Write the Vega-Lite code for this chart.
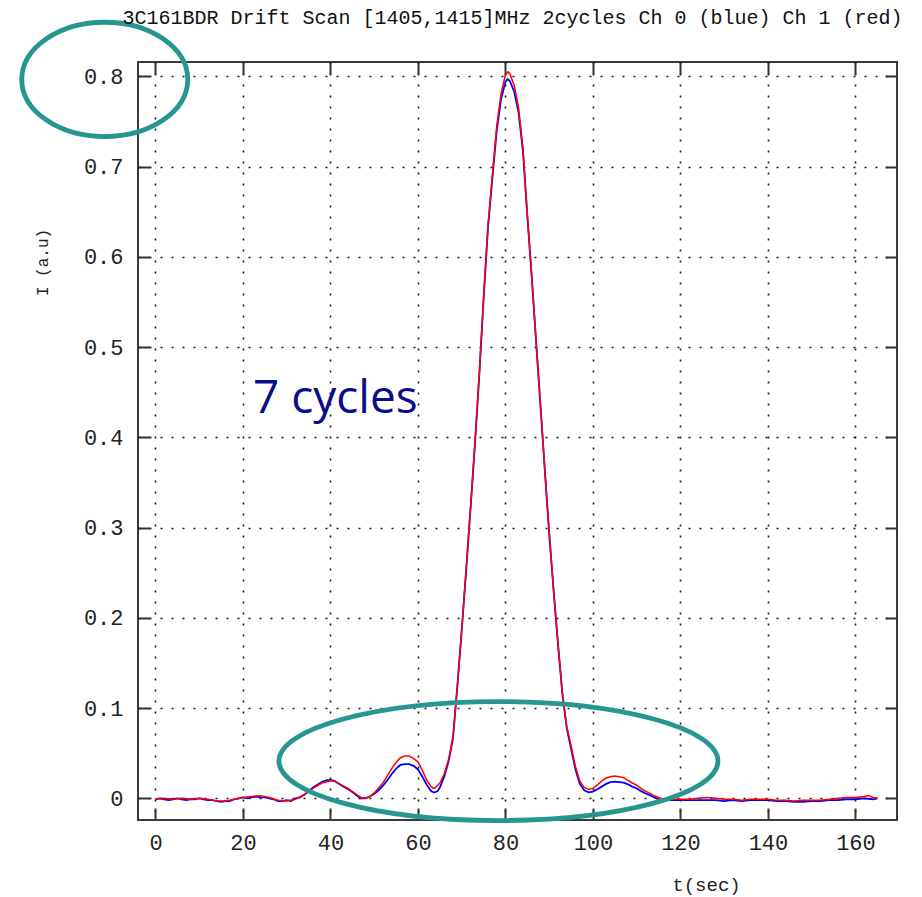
{
  "$schema": "https://vega.github.io/schema/vega-lite/v6.json",
  "autosize": {"type": "none"},
  "padding": {"left": 138, "top": 62, "right": 25, "bottom": 77},
  "width": 759,
  "height": 758,
  "background": "white",
  "title": {
    "text": "3C161BDR Drift Scan [1405,1415]MHz 2cycles Ch 0 (blue) Ch 1 (red)",
    "font": "Liberation Mono",
    "fontSize": 20,
    "fontWeight": "normal",
    "color": "#111111",
    "anchor": "middle",
    "dx": -5,
    "dy": 15,
    "offset": 0
  },
  "datasets": {
    "ch0": [
      {"t": 0, "I": -0.001}, {"t": 1, "I": 0.0}, {"t": 2, "I": -0.001}, {"t": 3, "I": -0.002},
      {"t": 4, "I": -0.001}, {"t": 5, "I": 0.0}, {"t": 6, "I": -0.001}, {"t": 7, "I": -0.002},
      {"t": 8, "I": -0.001}, {"t": 9, "I": -0.001}, {"t": 10, "I": 0.0}, {"t": 11, "I": -0.001},
      {"t": 12, "I": -0.002}, {"t": 13, "I": -0.002}, {"t": 14, "I": -0.003}, {"t": 15, "I": -0.004},
      {"t": 16, "I": -0.003}, {"t": 17, "I": -0.003}, {"t": 18, "I": -0.001}, {"t": 19, "I": 0.0},
      {"t": 20, "I": 0.001}, {"t": 21, "I": 0.0}, {"t": 22, "I": 0.001}, {"t": 23, "I": 0.002},
      {"t": 24, "I": 0.001}, {"t": 25, "I": 0.001}, {"t": 26, "I": 0.0}, {"t": 27, "I": -0.001},
      {"t": 28, "I": -0.003}, {"t": 29, "I": -0.003}, {"t": 30, "I": -0.002}, {"t": 31, "I": -0.003},
      {"t": 32, "I": 0.0}, {"t": 33, "I": 0.001}, {"t": 34, "I": 0.004}, {"t": 35, "I": 0.008},
      {"t": 36, "I": 0.012}, {"t": 37, "I": 0.015}, {"t": 38, "I": 0.018}, {"t": 39, "I": 0.02},
      {"t": 40, "I": 0.0205}, {"t": 41, "I": 0.019}, {"t": 42, "I": 0.016}, {"t": 43, "I": 0.013},
      {"t": 44, "I": 0.01}, {"t": 45, "I": 0.007}, {"t": 46, "I": 0.003}, {"t": 47, "I": 0.0},
      {"t": 48, "I": 0.0}, {"t": 49, "I": 0.002}, {"t": 50, "I": 0.005}, {"t": 51, "I": 0.009},
      {"t": 52, "I": 0.014}, {"t": 53, "I": 0.02}, {"t": 54, "I": 0.027}, {"t": 55, "I": 0.033},
      {"t": 56, "I": 0.037}, {"t": 57, "I": 0.038}, {"t": 58, "I": 0.038}, {"t": 59, "I": 0.036},
      {"t": 60, "I": 0.032}, {"t": 61, "I": 0.024}, {"t": 62, "I": 0.015}, {"t": 63, "I": 0.008},
      {"t": 63.7, "I": 0.0065}, {"t": 64.5, "I": 0.008}, {"t": 65, "I": 0.012}, {"t": 66, "I": 0.024},
      {"t": 67, "I": 0.041}, {"t": 68, "I": 0.066}, {"t": 69, "I": 0.124}, {"t": 70, "I": 0.186},
      {"t": 71, "I": 0.252}, {"t": 72, "I": 0.32}, {"t": 73, "I": 0.391}, {"t": 74, "I": 0.468},
      {"t": 75, "I": 0.553}, {"t": 76, "I": 0.632}, {"t": 77, "I": 0.687}, {"t": 78, "I": 0.74},
      {"t": 79, "I": 0.775}, {"t": 80, "I": 0.794}, {"t": 80.5, "I": 0.797}, {"t": 81, "I": 0.795},
      {"t": 82, "I": 0.783}, {"t": 83, "I": 0.76}, {"t": 84, "I": 0.717}, {"t": 85, "I": 0.645},
      {"t": 86, "I": 0.578}, {"t": 87, "I": 0.506}, {"t": 88, "I": 0.435}, {"t": 89, "I": 0.363},
      {"t": 90, "I": 0.293}, {"t": 91, "I": 0.23}, {"t": 92, "I": 0.171}, {"t": 93, "I": 0.116},
      {"t": 94, "I": 0.078}, {"t": 95, "I": 0.055}, {"t": 96, "I": 0.032}, {"t": 97, "I": 0.016},
      {"t": 98, "I": 0.009}, {"t": 99, "I": 0.0067}, {"t": 100, "I": 0.0075}, {"t": 101, "I": 0.01},
      {"t": 102, "I": 0.013}, {"t": 103, "I": 0.016}, {"t": 104, "I": 0.018}, {"t": 105, "I": 0.0185},
      {"t": 106, "I": 0.018}, {"t": 107, "I": 0.0173}, {"t": 108, "I": 0.0155}, {"t": 109, "I": 0.013},
      {"t": 110, "I": 0.011}, {"t": 111, "I": 0.008}, {"t": 112, "I": 0.0055}, {"t": 113, "I": 0.0035},
      {"t": 114, "I": 0.001}, {"t": 115, "I": -0.001}, {"t": 116, "I": -0.002}, {"t": 118, "I": -0.002},
      {"t": 120, "I": -0.002}, {"t": 122, "I": -0.002}, {"t": 124, "I": -0.002}, {"t": 126, "I": -0.002},
      {"t": 128, "I": -0.002}, {"t": 130, "I": -0.003}, {"t": 132, "I": -0.002}, {"t": 134, "I": -0.003},
      {"t": 136, "I": -0.002}, {"t": 138, "I": -0.002}, {"t": 140, "I": -0.002}, {"t": 142, "I": -0.003},
      {"t": 144, "I": -0.003}, {"t": 146, "I": -0.004}, {"t": 148, "I": -0.004}, {"t": 150, "I": -0.003},
      {"t": 152, "I": -0.003}, {"t": 154, "I": -0.002}, {"t": 156, "I": -0.002}, {"t": 158, "I": -0.001},
      {"t": 160, "I": -0.001}, {"t": 162, "I": 0.0}, {"t": 164, "I": -0.001}, {"t": 165, "I": 0.0}
    ],
    "ch1": [
      {"t": 0, "I": -0.001}, {"t": 2, "I": 0.0}, {"t": 4, "I": -0.001}, {"t": 6, "I": 0.0},
      {"t": 8, "I": -0.001}, {"t": 10, "I": 0.0}, {"t": 12, "I": -0.001}, {"t": 14, "I": -0.003},
      {"t": 16, "I": -0.003}, {"t": 18, "I": -0.001}, {"t": 20, "I": 0.001}, {"t": 22, "I": 0.002},
      {"t": 24, "I": 0.003}, {"t": 26, "I": 0.001}, {"t": 28, "I": -0.002}, {"t": 30, "I": -0.003},
      {"t": 32, "I": -0.001}, {"t": 34, "I": 0.004}, {"t": 36, "I": 0.011}, {"t": 38, "I": 0.017},
      {"t": 40, "I": 0.0195}, {"t": 41, "I": 0.019}, {"t": 42, "I": 0.016}, {"t": 44, "I": 0.011},
      {"t": 46, "I": 0.004}, {"t": 47, "I": 0.001}, {"t": 48, "I": 0.0005}, {"t": 49, "I": 0.002},
      {"t": 50, "I": 0.006}, {"t": 52, "I": 0.017}, {"t": 53, "I": 0.025}, {"t": 54, "I": 0.033},
      {"t": 55, "I": 0.04}, {"t": 56, "I": 0.045}, {"t": 57, "I": 0.047}, {"t": 58, "I": 0.047},
      {"t": 59, "I": 0.044}, {"t": 60, "I": 0.0405}, {"t": 61, "I": 0.031}, {"t": 62, "I": 0.02},
      {"t": 63, "I": 0.013}, {"t": 63.5, "I": 0.011}, {"t": 64, "I": 0.012}, {"t": 65, "I": 0.017},
      {"t": 66, "I": 0.027}, {"t": 67, "I": 0.043}, {"t": 68, "I": 0.068}, {"t": 69, "I": 0.125},
      {"t": 70, "I": 0.187}, {"t": 71, "I": 0.253}, {"t": 72, "I": 0.321}, {"t": 73, "I": 0.392},
      {"t": 74, "I": 0.469}, {"t": 75, "I": 0.555}, {"t": 76, "I": 0.635}, {"t": 77, "I": 0.69},
      {"t": 78, "I": 0.745}, {"t": 79, "I": 0.781}, {"t": 80, "I": 0.802}, {"t": 80.6, "I": 0.805},
      {"t": 81, "I": 0.803}, {"t": 82, "I": 0.79}, {"t": 83, "I": 0.765}, {"t": 84, "I": 0.72},
      {"t": 85, "I": 0.646}, {"t": 86, "I": 0.579}, {"t": 87, "I": 0.507}, {"t": 88, "I": 0.436},
      {"t": 89, "I": 0.364}, {"t": 90, "I": 0.294}, {"t": 91, "I": 0.231}, {"t": 92, "I": 0.172},
      {"t": 93, "I": 0.117}, {"t": 94, "I": 0.08}, {"t": 95, "I": 0.058}, {"t": 96, "I": 0.035},
      {"t": 97, "I": 0.019}, {"t": 98, "I": 0.012}, {"t": 99, "I": 0.01}, {"t": 100, "I": 0.011},
      {"t": 101, "I": 0.015}, {"t": 102, "I": 0.019}, {"t": 103, "I": 0.0225}, {"t": 104, "I": 0.024},
      {"t": 105, "I": 0.0247}, {"t": 106, "I": 0.024}, {"t": 107, "I": 0.023}, {"t": 108, "I": 0.02},
      {"t": 109, "I": 0.017}, {"t": 110, "I": 0.0147}, {"t": 111, "I": 0.011}, {"t": 112, "I": 0.008},
      {"t": 113, "I": 0.0055}, {"t": 114, "I": 0.003}, {"t": 115, "I": 0.001}, {"t": 116, "I": -0.001},
      {"t": 118, "I": -0.001}, {"t": 120, "I": -0.001}, {"t": 122, "I": -0.001}, {"t": 124, "I": 0.0},
      {"t": 126, "I": 0.001}, {"t": 128, "I": 0.0}, {"t": 130, "I": -0.001}, {"t": 132, "I": -0.001},
      {"t": 134, "I": -0.002}, {"t": 136, "I": -0.001}, {"t": 138, "I": -0.001}, {"t": 140, "I": -0.001},
      {"t": 142, "I": -0.002}, {"t": 144, "I": -0.002}, {"t": 146, "I": -0.003}, {"t": 148, "I": -0.002},
      {"t": 150, "I": -0.002}, {"t": 152, "I": -0.002}, {"t": 154, "I": -0.001}, {"t": 156, "I": 0.0},
      {"t": 158, "I": 0.001}, {"t": 160, "I": 0.001}, {"t": 162, "I": 0.002}, {"t": 163, "I": 0.003},
      {"t": 164, "I": 0.001}, {"t": 165, "I": 0.0}
    ]
  },
  "resolve": {"axis": {"x": "independent", "y": "independent"}},
  "layer": [
    {
      "data": {"name": "ch0"},
      "mark": {"type": "line", "color": "#0000ff", "strokeWidth": 1.8},
      "encoding": {
        "x": {
          "field": "t", "type": "quantitative",
          "scale": {"domain": [-4, 169.5], "nice": false, "zero": false},
          "axis": {
            "orient": "bottom",
            "values": [0, 20, 40, 60, 80, 100, 120, 140, 160],
            "format": "d",
            "domain": false,
            "grid": true,
            "gridColor": "#000000",
            "gridDash": [2, 9],
            "gridWidth": 1.6,
            "gridOpacity": 0.9,
            "ticks": true,
            "tickSize": -12,
            "tickWidth": 2,
            "tickColor": "#333333",
            "labelFont": "Liberation Mono",
            "labelFontSize": 22,
            "labelColor": "#222222",
            "labelPadding": 24,
            "labelFlush": false,
            "title": "t(sec)",
            "titleFont": "Liberation Mono",
            "titleFontSize": 19,
            "titleFontWeight": "normal",
            "titleColor": "#222222",
            "titleX": 568,
            "titleY": 70,
            "titleAlign": "center",
            "titleBaseline": "alphabetic"
          }
        },
        "y": {
          "field": "I", "type": "quantitative",
          "scale": {"domain": [-0.024, 0.816], "nice": false, "zero": false},
          "axis": {
            "orient": "left",
            "values": [0, 0.1, 0.2, 0.3, 0.4, 0.5, 0.6, 0.7, 0.8],
            "format": ".1~f",
            "domain": false,
            "grid": true,
            "gridColor": "#000000",
            "gridDash": [2, 9],
            "gridWidth": 1.6,
            "gridOpacity": 0.9,
            "ticks": true,
            "tickSize": -12,
            "tickWidth": 2,
            "tickColor": "#333333",
            "labelFont": "Liberation Mono",
            "labelFontSize": 22,
            "labelColor": "#222222",
            "labelPadding": 27,
            "labelFlush": false,
            "title": "I (a.u)",
            "titleFont": "Liberation Mono",
            "titleFontSize": 16,
            "titleFontWeight": "normal",
            "titleColor": "#222222",
            "titleAngle": -90,
            "titleX": -96,
            "titleY": 200,
            "titleAlign": "center",
            "titleBaseline": "middle"
          }
        }
      }
    },
    {
      "data": {"name": "ch1"},
      "mark": {"type": "line", "color": "#ff0000", "strokeWidth": 1.5},
      "encoding": {
        "x": {
          "field": "t", "type": "quantitative",
          "axis": {
            "orient": "top",
            "values": [0, 20, 40, 60, 80, 100, 120, 140, 160],
            "domain": false, "grid": false, "labels": false,
            "tickSize": -12, "tickWidth": 2, "tickColor": "#333333",
            "title": null
          }
        },
        "y": {
          "field": "I", "type": "quantitative",
          "axis": {
            "orient": "right",
            "values": [0, 0.1, 0.2, 0.3, 0.4, 0.5, 0.6, 0.7, 0.8],
            "domain": false, "grid": false, "labels": false,
            "tickSize": -12, "tickWidth": 2, "tickColor": "#333333",
            "title": null
          }
        }
      }
    },
    {
      "data": {"values": [{"t": 41.1, "I": 0.427, "note": "7 cycles"}]},
      "mark": {
        "type": "text",
        "font": "Open Sans",
        "fontSize": 46,
        "color": "#0c0c8c",
        "align": "center",
        "baseline": "alphabetic"
      },
      "encoding": {
        "x": {"field": "t", "type": "quantitative", "axis": null},
        "y": {"field": "I", "type": "quantitative", "axis": null},
        "text": {"field": "note"}
      }
    },
    {
      "data": {"values": [{"t": 78.4, "I": 0.0413}]},
      "mark": {
        "type": "point",
        "shape": "M -1 0 C -1 -0.1497 -0.5523 -0.271 0 -0.271 C 0.5523 -0.271 1 -0.1497 1 0 C 1 0.1497 0.5523 0.271 0 0.271 C -0.5523 0.271 -1 0.1497 -1 0 Z",
        "size": 192721,
        "filled": false,
        "stroke": "#26968f",
        "strokeWidth": 4.8,
        "opacity": 1
      },
      "encoding": {
        "x": {"field": "t", "type": "quantitative", "axis": null},
        "y": {"field": "I", "type": "quantitative", "axis": null}
      }
    },
    {
      "data": {"values": [{"t": -11.6, "I": 0.7967}]},
      "mark": {
        "type": "point",
        "shape": "M -1 0 C -1 -0.38 -0.5523 -0.6886 0 -0.6886 C 0.5523 -0.6886 1 -0.38 1 0 C 1 0.38 0.5523 0.6886 0 0.6886 C -0.5523 0.6886 -1 0.38 -1 0 Z",
        "size": 27556,
        "filled": false,
        "stroke": "#26968f",
        "strokeWidth": 4.8,
        "opacity": 1
      },
      "encoding": {
        "x": {"field": "t", "type": "quantitative", "axis": null},
        "y": {"field": "I", "type": "quantitative", "axis": null}
      }
    }
  ],
  "config": {
    "view": {"stroke": "#3a3a3a", "strokeWidth": 2},
    "axis": {"zindex": 0}
  }
}
